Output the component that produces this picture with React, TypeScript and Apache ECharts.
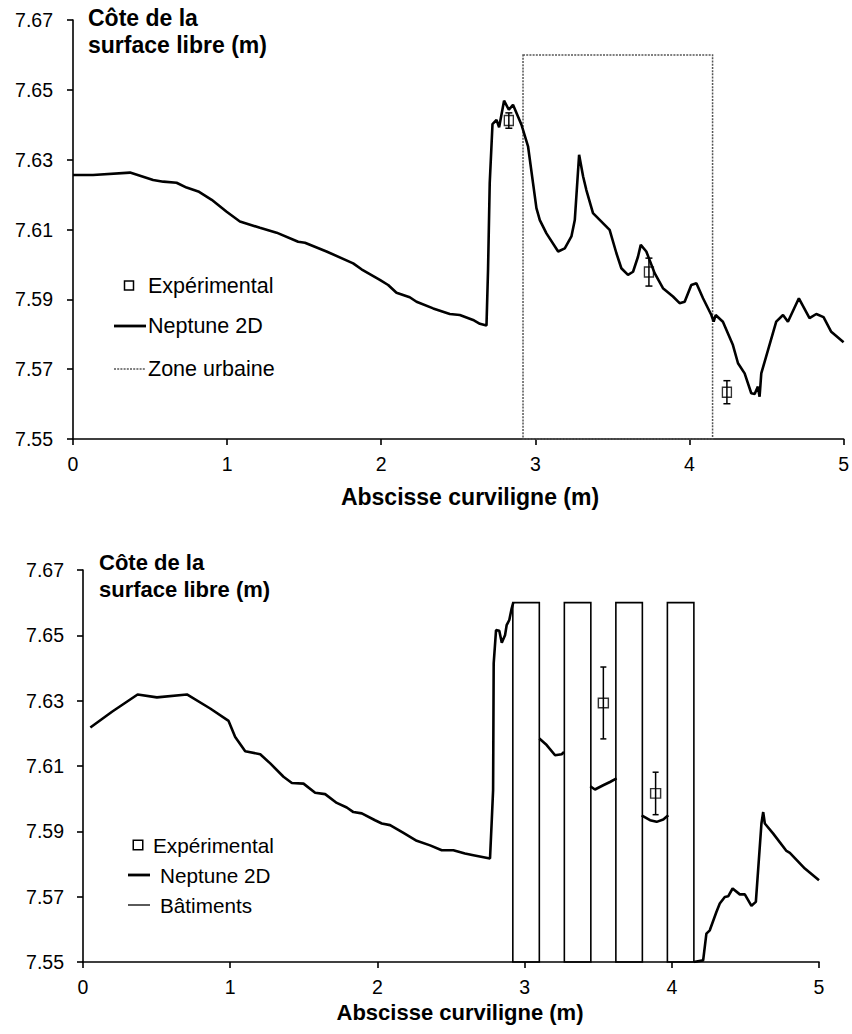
import React, { useEffect, useRef } from "react";
import * as echarts from "echarts";

// ---------- data ----------
const Y_MIN = 7.55;
const Y_MAX = 7.67;
const Y_STEP = 0.02;
const X_MIN = 0;
const X_MAX = 5;
const X_STEP = 1;

const yAxisTitle = ["Côte de la", "surface libre (m)"];
const xAxisTitle = "Abscisse curviligne (m)";
const legendTop = ["Expérimental", "Neptune 2D", "Zone urbaine"];
const legendBottom = ["Expérimental", "Neptune 2D", "Bâtiments"];

// Top chart: Neptune 2D free surface [x, z]
const neptuneTop: [number, number][] = [
  [0.0, 7.6256], [0.13, 7.6256], [0.37, 7.6263], [0.52, 7.6242], [0.586, 7.6237],
  [0.672, 7.6234], [0.737, 7.622], [0.813, 7.6209], [0.9, 7.6185], [0.997, 7.6151],
  [1.083, 7.6123], [1.213, 7.6105], [1.321, 7.6091], [1.461, 7.6065], [1.505, 7.6062],
  [1.645, 7.6037], [1.818, 7.6003], [1.872, 7.5986], [1.991, 7.5956], [2.045, 7.5941],
  [2.099, 7.5919], [2.185, 7.5906], [2.229, 7.5893], [2.337, 7.5874], [2.445, 7.5858],
  [2.51, 7.5855], [2.596, 7.5841], [2.64, 7.583], [2.683, 7.5825], [2.693, 7.5984],
  [2.704, 7.6233], [2.722, 7.6402], [2.748, 7.6414], [2.765, 7.6393], [2.797, 7.6469],
  [2.828, 7.6443], [2.855, 7.6457], [2.91, 7.64], [2.953, 7.6337], [2.985, 7.6233],
  [3.007, 7.6161], [3.029, 7.6127], [3.072, 7.6089], [3.148, 7.6037], [3.191, 7.6046],
  [3.234, 7.608], [3.256, 7.6127], [3.284, 7.6314], [3.31, 7.6252], [3.331, 7.6213],
  [3.374, 7.6147], [3.482, 7.6099], [3.526, 7.6032], [3.558, 7.5989], [3.601, 7.597],
  [3.634, 7.5979], [3.666, 7.6022], [3.684, 7.6056], [3.72, 7.6037], [3.774, 7.5975],
  [3.828, 7.5932], [3.893, 7.5908], [3.936, 7.5889], [3.969, 7.5893], [4.012, 7.5941],
  [4.045, 7.5946], [4.088, 7.5903], [4.142, 7.5855], [4.157, 7.5836], [4.17, 7.5855],
  [4.217, 7.5836], [4.282, 7.5769], [4.315, 7.5717], [4.358, 7.5688], [4.401, 7.5631],
  [4.423, 7.5629], [4.444, 7.565], [4.455, 7.5621], [4.466, 7.5688], [4.563, 7.5836],
  [4.607, 7.5855], [4.639, 7.5836], [4.71, 7.5903], [4.779, 7.5846], [4.823, 7.5858],
  [4.87, 7.5849], [4.92, 7.5807], [5.0, 7.5777],
];

// Top chart: experimental [x, z, error]
const experimentalTop: [number, number, number][] = [
  [2.828, 7.6412, 0.0022],
  [3.737, 7.5978, 0.004],
  [4.243, 7.5634, 0.0033],
];

// Top chart: urban zone [xStart, xEnd, zBase, zTop]
const zoneUrbaine: [number, number, number, number][] = [[2.92, 4.15, 7.55, 7.66]];

// Bottom chart: Neptune 2D segments (interrupted by buildings)
const neptuneBottomSeg0: [number, number][] = [
  [0.05, 7.6218], [0.197, 7.6266], [0.371, 7.6319], [0.502, 7.631], [0.706, 7.6319],
  [0.864, 7.6276], [0.989, 7.6238], [1.034, 7.6189], [1.102, 7.6145], [1.204, 7.6136],
  [1.272, 7.6108], [1.362, 7.6067], [1.419, 7.6048], [1.498, 7.6046], [1.577, 7.6018],
  [1.645, 7.6014], [1.724, 7.5987], [1.792, 7.5973], [1.837, 7.5959], [1.894, 7.5955],
  [1.984, 7.5934], [2.03, 7.5924], [2.086, 7.5919], [2.177, 7.5895], [2.267, 7.5871],
  [2.358, 7.5857], [2.437, 7.5842], [2.516, 7.5842], [2.595, 7.5832], [2.652, 7.5827],
  [2.765, 7.5817], [2.777, 7.5934], [2.786, 7.6026], [2.79, 7.6414], [2.806, 7.6516],
  [2.828, 7.6514], [2.845, 7.6477], [2.867, 7.65], [2.878, 7.6531], [2.896, 7.6547],
  [2.912, 7.6582], [2.923, 7.66],
];
const neptuneBottomSeg1: [number, number][] = [
  [3.1, 7.6184], [3.15, 7.6164], [3.207, 7.6133], [3.252, 7.6136], [3.268, 7.6143],
];
const neptuneBottomSeg2: [number, number][] = [
  [3.446, 7.6038], [3.478, 7.6028], [3.534, 7.6041], [3.58, 7.6051], [3.625, 7.6062],
];
const neptuneBottomSeg3: [number, number][] = [
  [3.795, 7.5949], [3.852, 7.5934], [3.897, 7.5929], [3.942, 7.5936], [3.976, 7.5949],
];
const neptuneBottomSeg4: [number, number][] = [
  [4.15, 7.55], [4.213, 7.5505], [4.235, 7.5587], [4.258, 7.5597], [4.303, 7.5653],
  [4.326, 7.5679], [4.36, 7.5699], [4.383, 7.5701], [4.413, 7.5725], [4.462, 7.5707],
  [4.496, 7.5707], [4.541, 7.5672], [4.571, 7.5684], [4.609, 7.5924], [4.621, 7.5959],
  [4.632, 7.5924], [4.689, 7.5893], [4.779, 7.584], [4.802, 7.5834], [4.904, 7.5786],
  [5.0, 7.575],
];

const experimentalBottom: [number, number, number][] = [
  [3.535, 7.6293, 0.011],
  [3.89, 7.6016, 0.0065],
];

// Bottom chart: buildings [xStart, xEnd, zBase, zTop]
const buildings: [number, number, number, number][] = [
  [2.92, 3.1, 7.55, 7.66],
  [3.27, 3.45, 7.55, 7.66],
  [3.62, 3.8, 7.55, 7.66],
  [3.97, 4.15, 7.55, 7.66],
];

// ---------- helpers ----------
const FONT = "'Liberation Sans', Arial, Helvetica, sans-serif";

function joinSegments(segs: [number, number][][]) {
  const out: any[] = [];
  segs.forEach((s, i) => {
    if (i > 0) out.push(["-", "-"]);
    s.forEach((p) => out.push(p));
  });
  return out;
}

function rectSeries(name: string, data: number[][], xi: number, style: any) {
  return {
    name,
    type: "custom",
    xAxisIndex: xi,
    yAxisIndex: xi,
    encode: { x: [0, 1], y: [2, 3] },
    data,
    z: 1,
    renderItem: (params: any, api: any) => {
      const p0 = api.coord([api.value(0), api.value(3)]);
      const p1 = api.coord([api.value(1), api.value(2)]);
      return {
        type: "rect",
        shape: { x: p0[0], y: p0[1], width: p1[0] - p0[0], height: p1[1] - p0[1] },
        style: { fill: "none", ...style },
      };
    },
  };
}

function errorSeries(name: string, data: number[][], xi: number, cap: number) {
  return {
    name,
    type: "custom",
    xAxisIndex: xi,
    yAxisIndex: xi,
    encode: { x: 0, y: 1 },
    data,
    z: 4,
    renderItem: (params: any, api: any) => {
      const x = api.value(0);
      const y = api.value(1);
      const e = api.value(2);
      const top = api.coord([x, y + e]);
      const bot = api.coord([x, y - e]);
      const st = { stroke: "#000", lineWidth: 1.5 };
      return {
        type: "group",
        children: [
          { type: "line", shape: { x1: top[0], y1: top[1], x2: bot[0], y2: bot[1] }, style: st },
          { type: "line", shape: { x1: top[0] - cap, y1: top[1], x2: top[0] + cap, y2: top[1] }, style: st },
          { type: "line", shape: { x1: bot[0] - cap, y1: bot[1], x2: bot[0] + cap, y2: bot[1] }, style: st },
        ],
      };
    },
  };
}

function xAxisCfg(gi: number) {
  return {
    type: "value",
    gridIndex: gi,
    min: X_MIN,
    max: X_MAX,
    interval: X_STEP,
    axisLine: { show: true, onZero: false, lineStyle: { color: "#000", width: 1.6 } },
    axisTick: { show: true, inside: false, length: 6, lineStyle: { color: "#000", width: 1.6 } },
    axisLabel: { color: "#000", fontSize: 19.5, fontFamily: FONT, margin: 15 },
    splitLine: { show: false },
  };
}

function yAxisCfg(gi: number, margin: number) {
  return {
    type: "value",
    gridIndex: gi,
    min: Y_MIN,
    max: Y_MAX,
    interval: Y_STEP,
    axisLine: { show: true, onZero: false, lineStyle: { color: "#000", width: 1.6 } },
    axisTick: { show: true, inside: false, length: 6, lineStyle: { color: "#000", width: 1.6 } },
    axisLabel: {
      color: "#000",
      fontSize: 19.5,
      fontFamily: FONT,
      margin,
      formatter: (v: number) => v.toFixed(2),
    },
    splitLine: { show: false },
  };
}

function txt(x: number, y: number, text: string, size: number, bold = false, align = "left") {
  return {
    type: "text",
    x,
    y,
    style: {
      text,
      fill: "#000",
      font: `${bold ? "bold " : ""}${size}px ${FONT}`,
      textAlign: align,
      textVerticalAlign: "middle",
    },
    z: 10,
  };
}

function legendGraphics(
  labels: string[],
  sq: { cx: number; cy: number; s: number; tx: number },
  lineX: [number, number],
  tx: number,
  ys: [number, number],
  size: number,
  thirdDashed: boolean
) {
  return [
    {
      type: "rect",
      shape: { x: sq.cx - sq.s / 2, y: sq.cy - sq.s / 2, width: sq.s, height: sq.s },
      style: { fill: "none", stroke: "#000", lineWidth: 1.5 },
      z: 10,
    },
    txt(sq.tx, sq.cy, labels[0], size),
    {
      type: "line",
      shape: { x1: lineX[0], y1: ys[0], x2: lineX[1], y2: ys[0] },
      style: { stroke: "#000", lineWidth: 2.8 },
      z: 10,
    },
    txt(tx, ys[0], labels[1], size),
    {
      type: "line",
      shape: { x1: lineX[0], y1: ys[1], x2: lineX[1], y2: ys[1] },
      style: thirdDashed
        ? { stroke: "#555", lineWidth: 1.3, lineDash: [2, 1.2] }
        : { stroke: "#000", lineWidth: 1.3 },
      z: 10,
    },
    txt(tx, ys[1], labels[2], size),
  ];
}

export default function App() {
  const ref = useRef<HTMLDivElement>(null);

  useEffect(() => {
    document.body.style.margin = "0";
    if (!ref.current) return;
    const chart = echarts.init(ref.current, null, { renderer: "svg" });

    const option: any = {
      animation: false,
      backgroundColor: "#fff",
      grid: [
        { left: 73, top: 20, width: 771, height: 419 },
        { left: 83, top: 570, width: 736, height: 392 },
      ],
      xAxis: [xAxisCfg(0), xAxisCfg(1)],
      yAxis: [yAxisCfg(0, 20), yAxisCfg(1, 19)],
      series: [
        rectSeries("Zone urbaine", zoneUrbaine, 0, {
          stroke: "#555",
          lineWidth: 1.5,
          lineDash: [2, 1.2],
        }),
        {
          name: "Neptune 2D",
          type: "line",
          xAxisIndex: 0,
          yAxisIndex: 0,
          data: neptuneTop,
          symbol: "none",
          z: 3,
          lineStyle: { color: "#000", width: 2.6 },
        },
        errorSeries("Erreur", experimentalTop, 0, 3.5),
        {
          name: "Expérimental",
          type: "scatter",
          xAxisIndex: 0,
          yAxisIndex: 0,
          data: experimentalTop.map((d) => [d[0], d[1]]),
          symbol: "rect",
          symbolSize: [9, 10],
          z: 5,
          itemStyle: { color: "rgba(0,0,0,0)", borderColor: "#000", borderWidth: 1.4 },
        },
        rectSeries("Bâtiments", buildings, 1, { stroke: "#000", lineWidth: 1.6 }),
        {
          name: "Neptune 2D (bas)",
          type: "line",
          xAxisIndex: 1,
          yAxisIndex: 1,
          data: joinSegments([
            neptuneBottomSeg0,
            neptuneBottomSeg1,
            neptuneBottomSeg2,
            neptuneBottomSeg3,
            neptuneBottomSeg4,
          ]),
          connectNulls: false,
          symbol: "none",
          z: 3,
          lineStyle: { color: "#000", width: 2.6 },
        },
        errorSeries("Erreur (bas)", experimentalBottom, 1, 3),
        {
          name: "Expérimental (bas)",
          type: "scatter",
          xAxisIndex: 1,
          yAxisIndex: 1,
          data: experimentalBottom.map((d) => [d[0], d[1]]),
          symbol: "rect",
          symbolSize: [10, 9.5],
          z: 5,
          itemStyle: { color: "rgba(0,0,0,0)", borderColor: "#000", borderWidth: 1.4 },
        },
      ],
      graphic: [
        txt(88, 18, yAxisTitle[0], 23, true),
        txt(88, 45, yAxisTitle[1], 23, true),
        txt(470, 497, xAxisTitle, 23, true, "center"),
        txt(99, 562, yAxisTitle[0], 22, true),
        txt(99, 589, yAxisTitle[1], 22, true),
        txt(460, 1012, xAxisTitle, 22, true, "center"),
        ...legendGraphics(legendTop, { cx: 129, cy: 285.5, s: 9, tx: 148 }, [114, 146], 148, [326, 369], 21.5, true),
        ...legendGraphics(legendBottom, { cx: 138, cy: 845, s: 9.5, tx: 153 }, [128, 150], 160, [875, 905], 20.7, false),
      ],
    };

    chart.setOption(option);
    return () => chart.dispose();
  }, []);

  return <div ref={ref} style={{ width: 852, height: 1034 }} />;
}
